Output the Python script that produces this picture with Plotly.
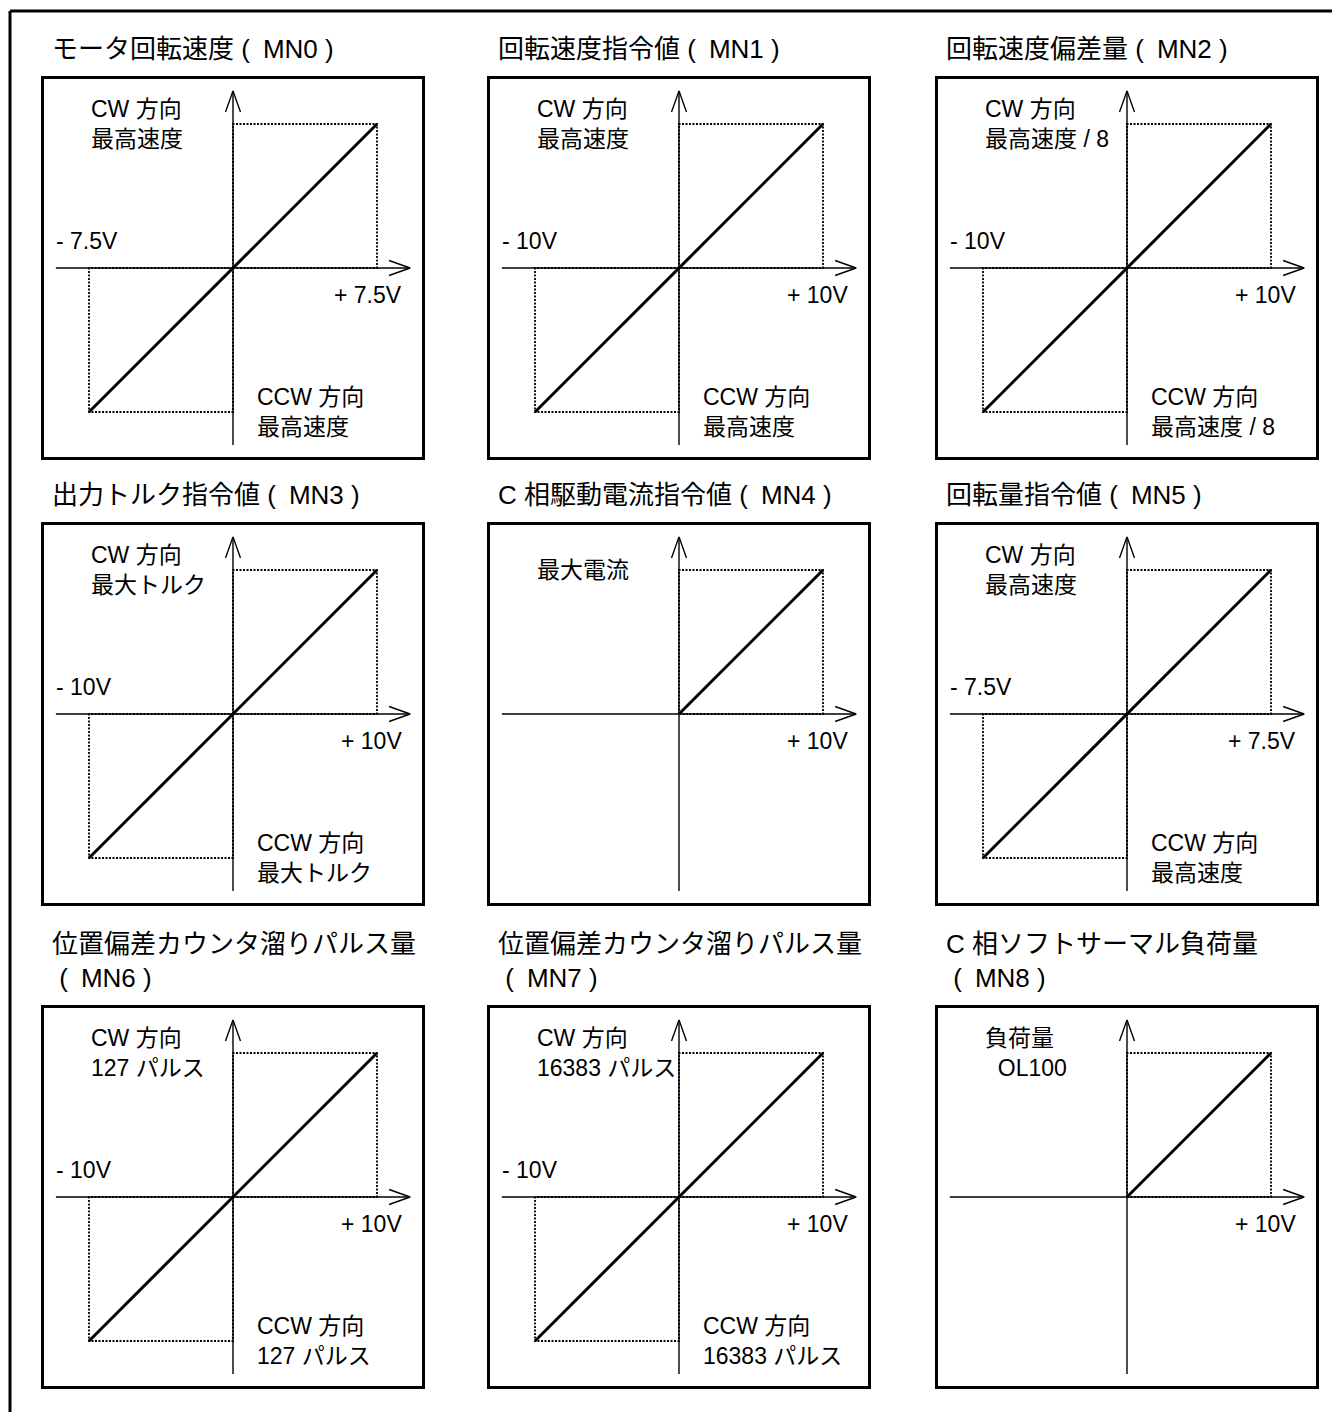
import plotly.graph_objects as go

# the page body adds an 8px margin, so the figure is drawn 8px smaller
OFF = 8
W, H = 1340 - OFF, 1412 - OFF
FONT = "Liberation Sans, Arial, Noto Sans CJK JP"
NB, EN = "\u00a0", "\u2002"

titles = [
    "モータ回転速度",
    "回転速度指令値",
    "回転速度偏差量",
    "出力トルク指令値",
    "C 相駆動電流指令値",
    "回転量指令値",
    "位置偏差カウンタ溜りパルス量",
    "位置偏差カウンタ溜りパルス量",
    "C 相ソフトサーマル負荷量",
]
codes = ["MN0", "MN1", "MN2", "MN3", "MN4", "MN5", "MN6", "MN7", "MN8"]
wrap_title = [False, False, False, False, False, False, True, True, True]
volt_max = [7.5, 10, 10, 10, 10, 7.5, 10, 10, 10]
bipolar = [True, True, True, True, False, True, True, True, False]
cw_labels = [
    "CW 方向<br>最高速度",
    "CW 方向<br>最高速度",
    "CW 方向<br>最高速度 / 8",
    "CW 方向<br>最大トルク",
    "最大電流",
    "CW 方向<br>最高速度",
    "CW 方向<br>127 パルス",
    "CW 方向<br>16383 パルス",
    "負荷量<br>" + NB + NB + "OL100",
]
ccw_labels = [
    "CCW 方向<br>最高速度",
    "CCW 方向<br>最高速度",
    "CCW 方向<br>最高速度 / 8",
    "CCW 方向<br>最大トルク",
    None,
    "CCW 方向<br>最高速度",
    "CCW 方向<br>127 パルス",
    "CCW 方向<br>16383 パルス",
    None,
]

# inner pixel edges of the boxes (page coordinates)
box_left = [44, 490, 938]
box_top = [79, 525, 1008]
box_size = 378
half = 1.3125  # half box width in units of full scale
reach = 1.23   # axis arrow length
head_len, head_w = 0.146, 0.052

fig = go.Figure()
annotations = []
layout = {}

for i in range(9):
    r, c = divmod(i, 3)
    v = volt_max[i]
    sfx = "" if i == 0 else str(i + 1)
    xa, ya = "x" + sfx, "y" + sfx
    left = box_left[c] - OFF
    top = box_top[r] - OFF
    x0, x1 = left / W, (left + box_size) / W
    y1, y0 = 1 - top / H, 1 - (top + box_size) / H
    ax = dict(showgrid=False, zeroline=False, showticklabels=False, ticks="",
              showline=True, mirror=True, linecolor="black", linewidth=3,
              fixedrange=True)
    layout["xaxis" + sfx] = dict(ax, domain=[x0, x1], range=[-half * v, half * v], anchor=ya)
    layout["yaxis" + sfx] = dict(ax, domain=[y0, y1], range=[-half, half], anchor=xa)

    # axes with open arrow heads
    ex = reach * v
    fig.add_trace(go.Scatter(
        x=[-ex, ex, None, ex - head_len * v, ex, ex - head_len * v, None,
           0, 0, None, -head_w * v, 0, head_w * v],
        y=[0, 0, None, head_w, 0, -head_w, None,
           -reach, reach, None, reach - head_len, reach, reach - head_len],
        xaxis=xa, yaxis=ya, mode="lines", line=dict(color="black", width=1.4),
        hoverinfo="skip", showlegend=False))

    # dotted full-scale boxes
    rx = [0, v, v, 0, 0]
    ry = [0, 0, 1, 1, 0]
    if bipolar[i]:
        rx += [None, 0, -v, -v, 0, 0]
        ry += [None, 0, 0, -1, -1, 0]
    fig.add_trace(go.Scatter(
        x=rx, y=ry, xaxis=xa, yaxis=ya, mode="lines",
        line=dict(color="black", width=1.8, dash="2px,1.5px"),
        hoverinfo="skip", showlegend=False))

    # output characteristic
    lo = -v if bipolar[i] else 0
    fig.add_trace(go.Scatter(
        x=[lo, v], y=[lo / v, 1], xaxis=xa, yaxis=ya, mode="lines",
        line=dict(color="black", width=3),
        hoverinfo="skip", showlegend=False))

    vtxt = ("%g" % v) + "V"
    lbl = dict(xref=xa, yref=ya, showarrow=False, xanchor="left",
               font=dict(family=FONT, size=23, color="black"), align="left")
    annotations.append(dict(lbl, x=-1.0 * v, y=1.0, text=cw_labels[i]))
    annotations.append(dict(lbl, x=1.19 * v, y=-0.19, text="+ " + vtxt, xanchor="right"))
    if bipolar[i]:
        annotations.append(dict(lbl, x=-1.24 * v, y=0.19, text="- " + vtxt))
        annotations.append(dict(lbl, x=0.15 * v, y=-1.0, text=ccw_labels[i]))

    code = "(" + EN + codes[i] + NB + ")"
    if wrap_title[i]:
        ttl = titles[i] + "<br>" + NB + code
    else:
        ttl = titles[i] + NB + code
    annotations.append(dict(
        xref="paper", yref="paper", x=(left + 6) / W,
        y=1 - (top - 13) / H, xanchor="left", yanchor="bottom",
        showarrow=False, align="left", text=ttl,
        font=dict(family=FONT, size=26, color="black")))

# outer frame (open on the right and bottom)
fx, fy = (10 - OFF) / W, 1 - (11 - OFF) / H
shapes = [
    dict(type="line", xref="paper", yref="paper", x0=fx, x1=fx, y0=0, y1=fy,
         line=dict(color="black", width=3)),
    dict(type="line", xref="paper", yref="paper", x0=fx, x1=1, y0=fy, y1=fy,
         line=dict(color="black", width=3)),
]

fig.update_layout(
    width=W, height=H, margin=dict(l=0, r=0, t=0, b=0),
    paper_bgcolor="white", plot_bgcolor="white",
    annotations=annotations, shapes=shapes, showlegend=False,
    **layout)

fig.write_html("out.html")
